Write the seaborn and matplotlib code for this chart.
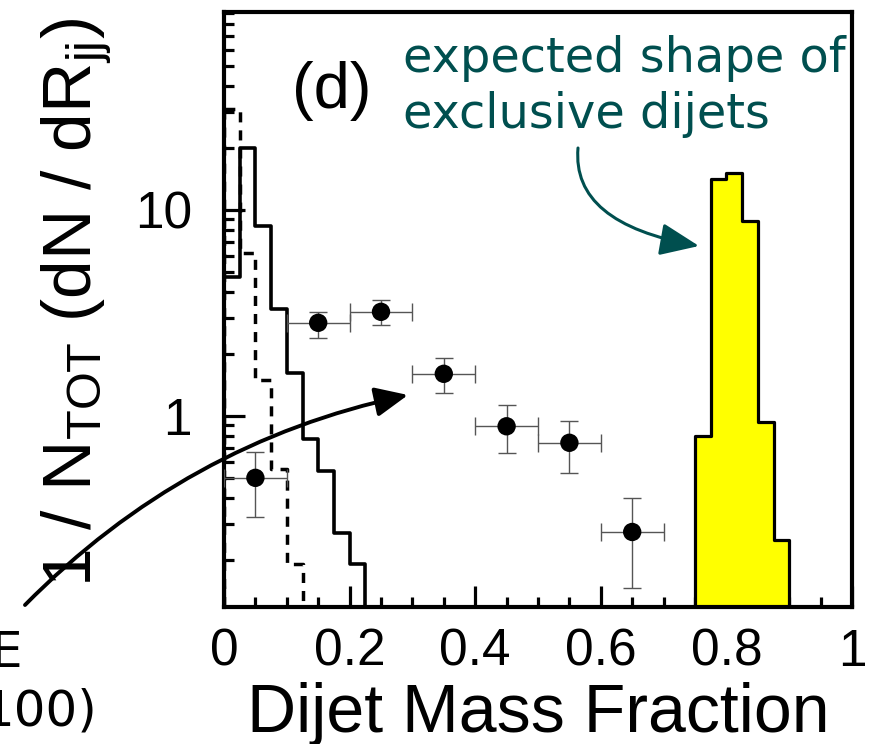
import numpy as np
import matplotlib
matplotlib.use("Agg")
import matplotlib.pyplot as plt
from matplotlib.ticker import MultipleLocator, LogLocator, NullFormatter, FuncFormatter
import seaborn as sns

# ---- data ----
# solid histogram (inclusive MC), bin edges and heights
solid_edges = [0, 0.025, 0.05, 0.075, 0.1, 0.125, 0.15, 0.175, 0.2, 0.225]
solid_vals = [4.7, 20.0, 8.4, 3.3, 1.62, 0.77, 0.54, 0.27, 0.19]

# dashed histogram
dashed_edges = [0, 0.025, 0.05, 0.075, 0.1, 0.125]
dashed_vals = [31.0, 6.2, 1.5, 0.55, 0.19]

# expected exclusive dijet shape (yellow)
excl_edges = [0.75, 0.775, 0.8, 0.825, 0.85, 0.875, 0.9]
excl_vals = [0.80, 14.1, 15.1, 8.8, 0.93, 0.25]

# data points with asymmetric errors
data_x = [0.05, 0.15, 0.25, 0.35, 0.45, 0.55, 0.65]
data_y = [0.50, 2.83, 3.2, 1.6, 0.89, 0.74, 0.273]
data_lo = [0.323, 2.39, 2.77, 1.29, 0.66, 0.53, 0.146]
data_hi = [0.668, 3.2, 3.66, 1.91, 1.13, 0.946, 0.40]
data_xerr = [0.05, 0.05, 0.05, 0.05, 0.05, 0.05, 0.05]

x_ticks = [0, 0.2, 0.4, 0.6, 0.8, 1]

TEAL = "#004f4f"

sns.set_theme(style="ticks")
plt.rcParams["font.family"] = ["Liberation Sans", "DejaVu Sans"]
plt.rcParams["mathtext.fontset"] = "custom"
plt.rcParams["mathtext.rm"] = "Liberation Sans"
plt.rcParams["mathtext.it"] = "Liberation Sans:italic"
for key in ["text.color", "axes.labelcolor", "xtick.color", "ytick.color",
            "xtick.labelcolor", "ytick.labelcolor", "axes.edgecolor"]:
    plt.rcParams[key] = "black"


def centers(edges):
    e = np.asarray(edges, dtype=float)
    return (e[:-1] + e[1:]) / 2


fig = plt.figure(figsize=(8.74, 7.44), dpi=100)
ax = fig.add_axes([224 / 874, 1 - 607 / 744, 628 / 874, 595 / 744])

# histograms
sns.histplot(x=centers(excl_edges), weights=excl_vals, bins=excl_edges,
             element="step", fill=True, color="black", facecolor="#ffff00",
             edgecolor="black", linewidth=2.3, ax=ax, zorder=1)
sns.histplot(x=centers(solid_edges), weights=solid_vals, bins=solid_edges,
             element="step", fill=True, color="black", facecolor="none",
             edgecolor="black", linewidth=2.6, ax=ax, zorder=2)
sns.histplot(x=centers(dashed_edges), weights=dashed_vals, bins=dashed_edges,
             element="step", fill=True, color="black", facecolor="none",
             edgecolor="black", linewidth=2.5, linestyle=(0, (2.9, 2.3)),
             ax=ax, zorder=2)

# data points
y = np.array(data_y)
yerr = [y - np.array(data_lo), np.array(data_hi) - y]
ax.errorbar(data_x, data_y, xerr=data_xerr, yerr=yerr, fmt="none",
            ecolor="#555555", elinewidth=1.0, capsize=6.5, capthick=1.0, zorder=3)
sns.scatterplot(x=data_x, y=data_y, color="black", s=175, edgecolor="none",
                ax=ax, zorder=4, legend=False)

ax.set_yscale("log")
ax.set_xlim(0, 1)
ax.set_ylim(0.118, 91.4)

ax.xaxis.set_major_locator(MultipleLocator(0.2))
ax.xaxis.set_minor_locator(MultipleLocator(0.05))
ax.set_xticks(x_ticks)
ax.xaxis.set_major_formatter(FuncFormatter(lambda v, p: f"{v:g}"))
ax.yaxis.set_major_locator(LogLocator(base=10))
ax.yaxis.set_minor_locator(LogLocator(base=10, subs=np.arange(2, 10)))
ax.yaxis.set_major_formatter(FuncFormatter(lambda v, p: f"{v:g}"))
ax.yaxis.set_minor_formatter(NullFormatter())

ax.tick_params(which="both", direction="in", top=False, right=False,
               width=2.3, color="black", labelcolor="black")
ax.tick_params(which="major", length=15)
ax.tick_params(which="minor", length=7.5)
ax.tick_params(axis="x", which="major", pad=15, labelsize=37)
ax.tick_params(axis="y", which="major", pad=23, labelsize=37)
for sp in ax.spines.values():
    sp.set_visible(True)
    sp.set_linewidth(3)
    sp.set_color("black")

ax.set_ylabel("")
ax.set_xlabel("Dijet Mass Fraction", fontsize=49, color="black")
ax.xaxis.set_label_coords(0.5, -0.126)

fig.text(91 / 874, 1 - 302 / 744,
         r"1 / N$_{\mathrm{TOT}}$ (dN / dR$_{\mathrm{jj}}$)",
         rotation=90, rotation_mode="anchor", ha="center", va="baseline",
         fontsize=50, color="black")

# panel tag and annotation
fig.text(292 / 874, 1 - 108 / 744, "(d)", fontsize=47, va="baseline",
         color="black")
fig.text(403 / 874, 1 - 72 / 744, "expected shape of", fontsize=34.5,
         family="DejaVu Sans", color=TEAL, va="baseline")
fig.text(403 / 874, 1 - 128 / 744, "exclusive dijets", fontsize=34.5,
         family="DejaVu Sans", color=TEAL, va="baseline")

# cut-off text from neighbouring panel
fig.text(22 / 874, 1 - 667 / 744, "E", fontsize=36, family="DejaVu Sans",
         ha="right", va="baseline", color="black")
fig.text(97 / 874, 1 - 725 / 744, "100)", fontsize=36, family="DejaVu Sans",
         ha="right", va="baseline", color="black")

# arrows
ax.annotate("", xy=(699 / 874, 1 - 246 / 744), xytext=(578 / 874, 1 - 148 / 744),
            xycoords="figure fraction", textcoords="figure fraction",
            arrowprops=dict(arrowstyle="-|>,head_length=1.2,head_width=0.5",
                            connectionstyle="angle3,angleA=-95,angleB=-10",
                            color=TEAL, lw=2.2, mutation_scale=20,
                            shrinkA=0, shrinkB=0), zorder=6)
ax.annotate("", xy=(408 / 874, 1 - 395 / 744), xytext=(25 / 874, 1 - 605 / 744),
            xycoords="figure fraction", textcoords="figure fraction",
            arrowprops=dict(arrowstyle="-|>,head_length=1.0,head_width=0.45",
                            connectionstyle="arc3,rad=-0.15",
                            color="black", lw=2.8, mutation_scale=20,
                            shrinkA=0, shrinkB=0), zorder=6)

fig.savefig("out.png", dpi=100)
